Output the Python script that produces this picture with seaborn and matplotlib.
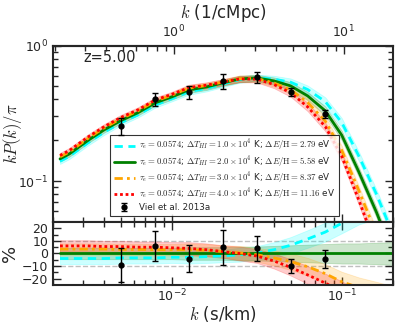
import numpy as np
import pandas as pd
import matplotlib
matplotlib.use("Agg")
import matplotlib.pyplot as plt
import seaborn as sns

# k grid (s/km) and the reference model (dT=2e4 K) kP(k)/pi
k_grid = [0.0022, 0.0025, 0.0032, 0.004, 0.005, 0.0063, 0.008, 0.01, 0.0126, 0.016, 0.02,
          0.025, 0.0316, 0.04, 0.05, 0.063, 0.08, 0.1, 0.126, 0.16, 0.2]
p_green = [0.146, 0.159, 0.199, 0.239, 0.279, 0.319, 0.378, 0.418, 0.471, 0.495, 0.530,
           0.567, 0.577, 0.548, 0.504, 0.425, 0.330, 0.218, 0.117, 0.059, 0.029]

# deviation of each model from the reference model (%)
pct_cyan = [-4, -4, -4, -4, -3.5, -3.5, -3.5, -3, -3, -2.5, -2, -1, 0.3, 3, 6.5, 11.5, 17, 24, 31, 36, 40]
pct_green = [0] * 21
pct_orange = [3.5, 3.5, 3.5, 3.5, 3.2, 3.2, 3, 3, 3, 2.5, 1.5, 0.5, -1, -3.5, -6.5, -10.5, -16, -22.5, -27, -31, -35]
pct_red = [6, 6, 6, 5.5, 5.5, 5, 5, 4.5, 4, 3, 1.5, 0, -2, -6, -11, -17, -23.5, -30, -38, -45, -52]
band_pct = [4.5, 4.5, 4.5, 4.5, 4.5, 4.5, 4.5, 4.5, 5, 5, 5, 5.5, 5.5, 6, 6.5, 7, 7.5, 8, 8, 8.5, 9]

models = ["cyan", "green", "orange", "red"]
labels = [r"$\tau_e=0.0574$; $\Delta T_{HI}=1.0\times10^4$ K; $\Delta E/\mathrm{H}=2.79$ eV",
          r"$\tau_e=0.0574$; $\Delta T_{HI}=2.0\times10^4$ K; $\Delta E/\mathrm{H}=5.58$ eV",
          r"$\tau_e=0.0574$; $\Delta T_{HI}=3.0\times10^4$ K; $\Delta E/\mathrm{H}=8.37$ eV",
          r"$\tau_e=0.0574$; $\Delta T_{HI}=4.0\times10^4$ K; $\Delta E/\mathrm{H}=11.16$ eV"]

# Viel et al. 2013a
k_data = [0.005, 0.008, 0.0126, 0.02, 0.0317, 0.05, 0.08]
p_data = [0.256, 0.404, 0.455, 0.548, 0.587, 0.455, 0.3135]
p_err = [0.0376, 0.046, 0.052, 0.073, 0.056, 0.028, 0.023]
pct_data = [-8.8, 6.0, -4.0, 4.8, 4.0, -10.0, -4.3]
pct_data_err = [13.5, 12.0, 11.0, 14.0, 10.0, 5.6, 7.0]

top_ticks = [1, 10]

sns.set_style("ticks")
plt.rcParams["font.family"] = ["DejaVu Sans"]
plt.rcParams["mathtext.fontset"] = "cm"

colors = {"cyan": "cyan", "green": "green", "orange": "orange", "red": "red"}
styles = {"cyan": (0, (3, 2)), "green": "-", "orange": (0, (3, 1.5, 1, 1.5)), "red": (0, (1, 1))}
pcts = {"cyan": pct_cyan, "green": pct_green, "orange": pct_orange, "red": pct_red}

k = np.array(k_grid)
pg = np.array(p_green)
bp = np.array(band_pct) / 100

fig = plt.figure(figsize=(3.99, 3.26), dpi=100)
ax = fig.add_axes([0.1328, 0.319, 0.852, 0.5414])
axr = fig.add_axes([0.1328, 0.1258, 0.852, 0.1933], sharex=ax)

handles = []
for m in models:
    pc = np.array(pcts[m]) / 100
    pm = pg * (1 + pc)
    df = pd.DataFrame({"k": k, "P": pm, "pct": pc * 100})
    ax.fill_between(k, pm * (1 - bp), pm * (1 + bp), color=colors[m], alpha=0.2, lw=0.6)
    axr.fill_between(k, (pc - bp) * 100, (pc + bp) * 100, color=colors[m], alpha=0.2, lw=0.6)
    sns.lineplot(data=df, x="k", y="P", ax=ax, color=colors[m], linestyle=styles[m], lw=2, legend=False)
    sns.lineplot(data=df, x="k", y="pct", ax=axr, color=colors[m], linestyle=styles[m], lw=2, legend=False)
    handles.append(ax.lines[-1])

eb = ax.errorbar(k_data, p_data, yerr=p_err, fmt="o", color="black", ms=3.5, capsize=2, elinewidth=1, zorder=10)
axr.errorbar(k_data, pct_data, yerr=pct_data_err, fmt="o", color="black", ms=3.5, capsize=2, elinewidth=1, zorder=10)
handles.append(eb)

for yv in (-10, 10):
    axr.axhline(yv, color="0.75", ls="--", lw=1, zorder=0)

ax.set_xscale("log")
ax.set_yscale("log")
ax.set_xlim(0.002, 0.2)
ax.set_ylim(0.05, 1.0)
axr.set_ylim(-25, 25)
axr.set_yticks([-20, -10, 0, 10, 20])
axr.set_yticks([-15, -5, 5, 15], minor=True)

ax.set_xlabel("")
ax.set_ylabel(r"$kP(k)/\pi$", fontsize=12)
axr.set_xlabel(r"$k$ (s/km)", fontsize=12, labelpad=0)
axr.set_ylabel("%", fontsize=13)
ax.yaxis.set_label_coords(-0.085, 0.5)
axr.yaxis.set_label_coords(-0.1, 0.5)
plt.setp(ax.get_xticklabels(), visible=False)

fac = 97.3
top = ax.secondary_xaxis("top", functions=(lambda x: x * fac, lambda x: x / fac))
top.set_xticks(top_ticks)
top.set_xlabel(r"$k$ (1/cMpc)", fontsize=12, labelpad=4)
top.tick_params(which="both", direction="in", labelsize=9)
top.tick_params(which="major", length=6, width=1)
top.tick_params(which="minor", length=3.5, width=1)

for a in (ax, axr):
    a.tick_params(which="both", direction="in", right=True, labelsize=9)
    a.tick_params(which="major", length=6, width=1)
    a.tick_params(which="minor", length=3.5, width=1)
    for s in a.spines.values():
        s.set_linewidth(1.5)
axr.tick_params(which="both", top=True)
axr.tick_params(axis="x", pad=2)
for s in top.spines.values():
    s.set_linewidth(1.5)

ax.text(0.09, 0.93, "z=5.00", transform=ax.transAxes, fontsize=10.5, va="center")

leg = ax.legend(handles, labels + ["Viel et al. 2013a"], loc="lower left",
                bbox_to_anchor=(0.155, 0.012), fontsize=6.3, frameon=True, fancybox=False,
                handlelength=2.4, labelspacing=0.12, borderpad=0.4, handletextpad=0.5)
leg.get_frame().set_edgecolor("black")
leg.get_frame().set_linewidth(0.8)

fig.savefig("out.png", dpi=100)
